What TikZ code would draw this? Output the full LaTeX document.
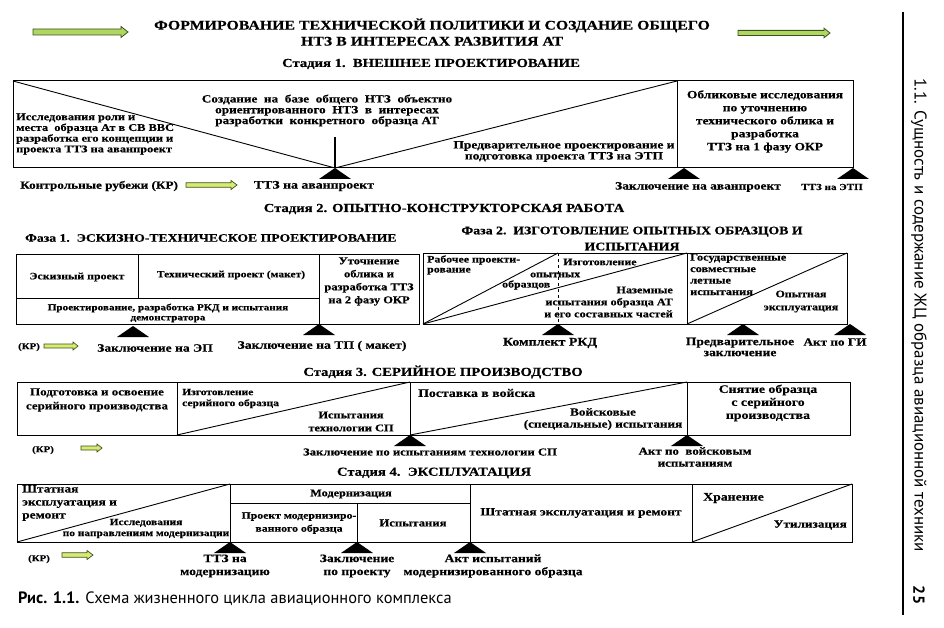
\documentclass[tikz,border=0pt]{standalone}
\usepackage{fontspec}
\setmainfont{Liberation Serif}[FakeStretch=1.2, BoldFeatures={FakeBold=0.4}]
\newfontfamily\sansf{PT Sans}
\definecolor{arrfill}{RGB}{175,215,95}
\definecolor{arrline}{RGB}{60,80,35}
\definecolor{karr}{RGB}{215,235,110}
\tikzset{
  box/.style={draw, line width=1pt},
  thin/.style={draw, line width=0.9pt},
  fs/.style 2 args={inner sep=0pt, font=\bfseries\fontsize{#1}{#2}\selectfont},
  mile/.pic={\fill (0,0) -- (-16,11) -- (16,11) -- cycle;},
  garr/.style={draw=arrline, fill=arrfill, line width=0.8pt, line join=miter},
  karrst/.style={draw=arrline, fill=karr, line width=0.7pt},
}
% arrow: x1, x2, y, shaft half, head half, head length, style
\newcommand\blockarrow[7]{\draw[#7] (#1,#3-#4) -- (#2-#6,#3-#4) -- (#2-#6,#3-#5) -- (#2,#3) -- (#2-#6,#3+#5) -- (#2-#6,#3+#4) -- (#1,#3+#4) -- cycle;}
\begin{document}
\begin{tikzpicture}[x=1pt,y=-1pt]
\useasboundingbox (0,0) rectangle (944,628);

% ---------- title ----------
\blockarrow{33}{128}{32}{3}{5.5}{7}{garr}
\blockarrow{738}{830}{33}{2.6}{4.8}{6}{garr}
\node[fs={13.2}{16}, align=center] (title) at (432,32) {ФОРМИРОВАНИЕ ТЕХНИЧЕСКОЙ ПОЛИТИКИ И СОЗДАНИЕ ОБЩЕГО\\НТЗ В ИНТЕРЕСАХ РАЗВИТИЯ АТ};

% ---------- stage 1 ----------
\node[fs={12.2}{14}] (st1) at (431,64) {Стадия 1.\ \ ВНЕШНЕЕ ПРОЕКТИРОВАНИЕ};
\coordinate (a1) at (13,81);
\coordinate (a2) at (677,81);
\coordinate (a3) at (853,81);
\coordinate (b1) at (13,168);
\coordinate (b2) at (677,168);
\coordinate (b3) at (853,168);
\coordinate (m1) at (335,168);
\coordinate (m1t) at (335,137);
\draw[box] (a1) rectangle (b2);
\draw[box] (a2) rectangle (b3);
\draw[thin] (a1) -- (m1) -- (a2);
\draw[line width=2pt] (m1t) -- (m1);
\node[fs={10.3}{10.7}, align=left, anchor=west] (s1a) at (16,134) {Исследования роли и\\места\ \ образца Ат в СВ ВВС\\разработка его концепции и\\проекта ТТЗ на аванпроект};
\node[fs={11}{10.8}, align=center] (s1b) at (327,110.5) {Создание\ \ на\ \ базе\ \ общего\ \ НТЗ\ \ объектно\\ориентированного\ \ НТЗ\ \ в\ \ интересах\\разработки\ \ конкретного\ \ образца АТ};
\node[fs={11.2}{11}, align=center] (s1c) at (564,151.5) {Предварительное проектирование и\\подготовка проекта ТТЗ на ЭТП};
\node[fs={11.2}{13}, align=center] (s1d) at (765,121.5) {Обликовые исследования\\по уточнению\\технического облика и\\разработка\\ТТЗ на 1 фазу ОКР};
\pic at (m1) {mile};
\pic at (684,168) {mile};
\pic at (b3) {mile};
\node[fs={11}{12}, anchor=west] (kr1) at (20,186) {Контрольные рубежи (КР)};
\blockarrow{186}{237}{185}{2.2}{4.5}{6}{karrst}
\node[fs={11.5}{12}] (k1a) at (314,186) {ТТЗ на аванпроект};
\node[fs={11.2}{12}] (k1b) at (698,187) {Заключение на аванпроект};
\node[fs={9.2}{12}] (k1c) at (832,187) {ТТЗ на ЭТП};

% ---------- stage 2 ----------
\node[fs={12.2}{14}] (st2) at (444,209) {Стадия 2. ОПЫТНО-КОНСТРУКТОРСКАЯ РАБОТА};
\node[fs={11.4}{13}, anchor=west] (ph1) at (25,238) {Фаза 1.\ \ ЭСКИЗНО-ТЕХНИЧЕСКОЕ ПРОЕКТИРОВАНИЕ};
\node[fs={11.5}{16}, align=center] (ph2) at (632,238.5) {Фаза 2.\ \ ИЗГОТОВЛЕНИЕ ОПЫТНЫХ ОБРАЗЦОВ И\\ИСПЫТАНИЯ};
% phase 1 box
\coordinate (p1a) at (16,254);
\coordinate (p1b) at (419,324);
\coordinate (p1v) at (319,254);
\coordinate (p1vb) at (319,324);
\coordinate (p1h1) at (16,298);
\coordinate (p1h2) at (319,298);
\coordinate (p1w) at (138,254);
\coordinate (p1wb) at (138,298);
\draw[box] (p1a) rectangle (p1b);
\draw[thin] (p1v) -- (p1vb);
\draw[thin] (p1h1) -- (p1h2);
\draw[thin] (p1w) -- (p1wb);
\node[fs={9.9}{11}] (e1) at (77,277) {Эскизный проект};
\node[fs={9.6}{11}] (e2) at (231,275) {Технический проект (макет)};
\node[fs={9.3}{10}, align=center] (e3) at (168,313) {Проектирование, разработка РКД и испытания\\демонстратора};
\node[fs={10.4}{13}, align=center] (e4) at (369,281.5) {Уточнение\\облика и\\разработка ТТЗ\\на 2 фазу ОКР};
\pic at (133,326) {mile};
\pic at (p1vb) {mile};
\node[fs={9}{12}] (kr2) at (29,347) {(КР)};
\blockarrow{44}{78}{346}{2}{4}{5}{karrst}
\node[fs={11.3}{12}] (k2a) at (155,348) {Заключение на ЭП};
\node[fs={11.4}{12}] (k2b) at (322,346) {Заключение на ТП ( макет)};
% phase 2 box
\coordinate (p2a) at (423,253);
\coordinate (p2b) at (847,324);
\coordinate (p2bl) at (423,324);
\coordinate (p2m) at (687,253);
\coordinate (p2mb) at (687,324);
\coordinate (p2d) at (558,253);
\coordinate (p2db) at (558,324);
\coordinate (p2tr) at (847,253);
\draw[box] (p2a) rectangle (p2b);
\draw[thin] (p2m) -- (p2mb);
\draw[thin] (p2bl) -- (p2d);
\draw[thin] (p2bl) -- (p2m);
\draw[thin] (p2mb) -- (p2tr);
\node[fs={9.9}{10}, align=left, anchor=west] (f1) at (427,265) {Рабочее проекти-\\рование};
\node[fs={9.9}{10}, anchor=west] (f2) at (563,262) {Изготовление};
\node[fs={9.9}{10}, anchor=west] (f3) at (530,275) {опытных};
\node[fs={9.9}{10}, anchor=west] (f4) at (502,285) {образцов};
\node[fs={10.2}{12}, align=right, anchor=east] (f5) at (673,302) {Наземные\\испытания образца АТ\\и его составных частей};
\draw[line width=0.9pt, dashed] (p2d) -- (p2db);
\node[fs={10.3}{11.5}, align=left, anchor=west] (g1) at (690,274.5) {Государственные\\совместные\\летные\\испытания};
\node[fs={10}{13}, align=center] (g2) at (801,301.5) {Опытная\\эксплуатация};
\pic at (p2db) {mile};
\pic at (743,324) {mile};
\pic at (850,324) {mile};
\node[fs={11.6}{12}] (k2c) at (550,343) {Комплект РКД};
\node[fs={11.3}{11}, align=center] (k2d) at (740,347) {Предварительное\\заключение};
\node[fs={11}{12}] (k2e) at (835,342) {Акт по ГИ};

% ---------- stage 3 ----------
\node[fs={12.2}{14}] (st3) at (443,372) {Стадия 3. СЕРИЙНОЕ ПРОИЗВОДСТВО};
\coordinate (c1) at (17,382);
\coordinate (c2) at (850,435);
\coordinate (c3t) at (177,382);
\coordinate (c3b) at (177,435);
\coordinate (c4t) at (410,382);
\coordinate (c4b) at (410,435);
\coordinate (c5t) at (687,382);
\coordinate (c5b) at (687,435);
\draw[box] (c1) rectangle (c2);
\draw[thin] (c3t) -- (c3b);
\draw[thin] (c4t) -- (c4b);
\draw[thin] (c5t) -- (c5b);
\draw[thin] (c3b) -- (c4t);
\draw[thin] (c4b) -- (c5t);
\node[fs={10.8}{14}, align=center] (h1) at (97,400) {Подготовка и освоение\\серийного производства};
\node[fs={9.6}{11}, align=left, anchor=west] (h2) at (182,398.5) {Изготовление\\серийного образца};
\node[fs={10.3}{13}, align=center] (h3) at (351,421.5) {Испытания\\технологии СП};
\node[fs={11.5}{12}, anchor=west] (h4) at (418,393) {Поставка в войска};
\node[fs={11}{12}, align=center] (h5) at (603,419) {Войсковые\\(специальные) испытания};
\node[fs={11.5}{13}, align=center] (h6) at (768,403) {Снятие образца\\с серийного\\производства};
\pic at (c4b) {mile};
\pic at (c5b) {mile};
\node[fs={9}{12}] (kr3) at (43,450) {(КР)};
\blockarrow{81}{102}{448}{2}{4}{5}{karrst}
\node[fs={10.6}{12}] (k3a) at (430,452) {Заключение по испытаниям технологии СП};
\node[fs={10.8}{12}, align=center] (k3b) at (695,457) {Акт по\ \ войсковым\\испытаниям};

% ---------- stage 4 ----------
\node[fs={12.2}{14}] (st4) at (434,473) {Стадия 4.\ \ ЭКСПЛУАТАЦИЯ};
\coordinate (d1) at (17,484);
\coordinate (d2) at (852,542);
\coordinate (d3t) at (230,484);
\coordinate (d3b) at (230,542);
\coordinate (d4t) at (470,484);
\coordinate (d4b) at (470,542);
\coordinate (d5t) at (692,484);
\coordinate (d5b) at (692,542);
\coordinate (d6t) at (357,503);
\coordinate (d6b) at (357,542);
\coordinate (dl) at (17,542);
\coordinate (dr) at (852,484);
\draw[box] (d1) rectangle (d2);
\draw[thin] (d3t) -- (d3b);
\draw[thin] (d4t) -- (d4b);
\draw[thin] (d5t) -- (d5b);
\draw[thin] (d3t |- d6t) -- (d4t |- d6t);
\draw[thin] (d6t) -- (d6b);
\draw[thin] (dl) -- (d3t);
\draw[thin] (d5b) -- (dr);
\node[fs={11.2}{13}, align=left, anchor=west] (i1) at (22,503) {Штатная\\эксплуатация и\\ремонт};
\node[fs={9.5}{11}, align=center] (i2) at (146,528.5) {Исследования\\по направлениям модернизации};
\node[fs={10.2}{11}] (i3) at (351,494) {Модернизация};
\node[fs={9.8}{13}, align=center] (i4) at (299,523) {Проект модернизиро-\\ванного образца};
\node[fs={10.6}{12}] (i5) at (413,523) {Испытания};
\node[fs={11.2}{12}] (i6) at (581,513) {Штатная эксплуатация и ремонт};
\node[fs={11.5}{12}, anchor=west] (i7) at (703,498) {Хранение};
\node[fs={11}{12}, anchor=east] (i8) at (847,525) {Утилизация};
\pic at (d3b) {mile};
\pic at (d6b) {mile};
\pic at (d4b) {mile};
\node[fs={9}{12}] (kr4) at (39,559) {(КР)};
\blockarrow{62}{93}{555}{2.2}{4.5}{6}{karrst}
\node[fs={11.3}{13}, align=center] (k4a) at (225,566) {ТТЗ на\\модернизацию};
\node[fs={11.3}{13}, align=center] (k4b) at (357,566) {Заключение\\по проекту};
\node[fs={11.3}{13}, align=center] (k4c) at (493,566) {Акт испытаний\\модернизированного образца};

% ---------- caption and margin ----------
\node[inner sep=0pt, anchor=west, font=\sansf\fontsize{16.4}{18}\selectfont] (cap) at (18,599) {\textbf{Рис. 1.1.} Схема жизненного цикла авиационного комплекса};
\coordinate (vl1) at (903,12);
\coordinate (vl2) at (903,615);
\draw[line width=1.2pt] (vl1) -- (vl2);
\node[inner sep=0pt, rotate=-90, anchor=west, font=\sansf\fontsize{17}{19}\selectfont] (side) at (919,78) {1.1. Сущность и содержание ЖЦ образца авиационной техники};
\node[inner sep=0pt, rotate=-90, font=\sansf\bfseries\fontsize{16}{18}\selectfont] (pg) at (919,595) {25};
\end{tikzpicture}
\end{document}
